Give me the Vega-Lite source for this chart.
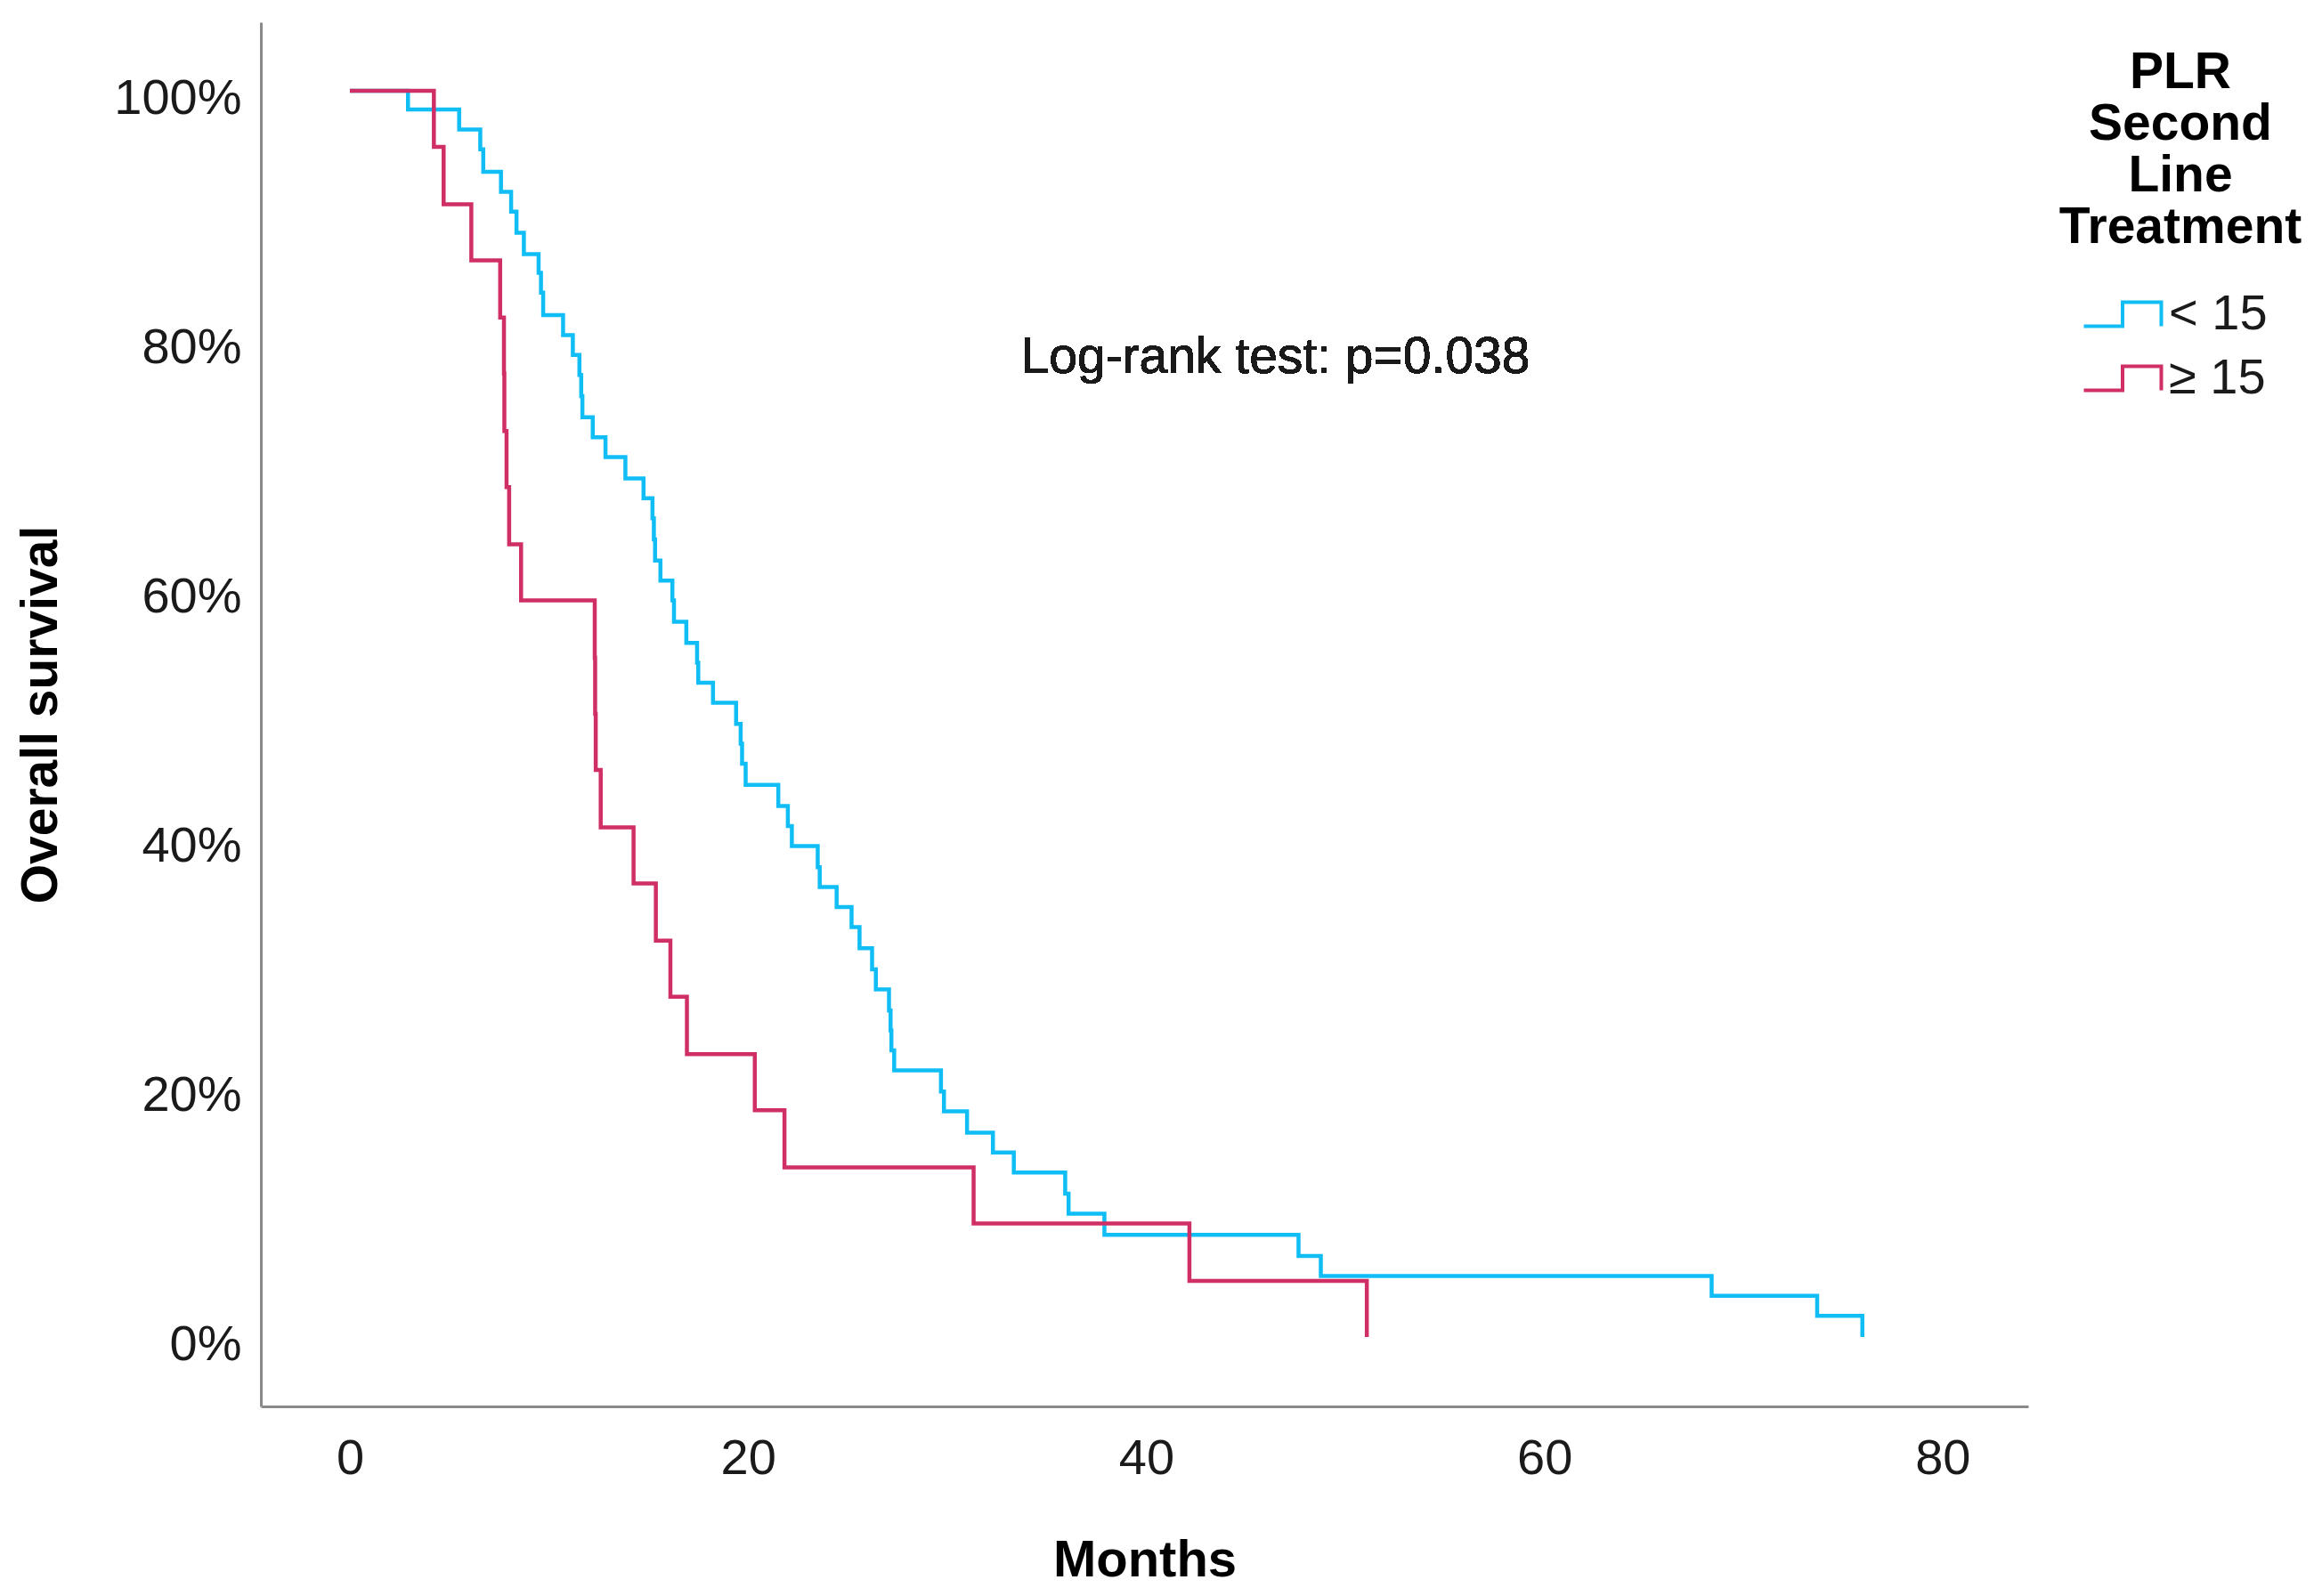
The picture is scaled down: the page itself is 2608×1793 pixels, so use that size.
{
  "$schema": "https://vega.github.io/schema/vega-lite/v6.json",
  "width": 1985,
  "height": 1555,
  "autosize": {"type": "none"},
  "padding": {"left": 293, "top": 25, "right": 330, "bottom": 213},
  "background": "white",
  "config": {"view": {"stroke": null}, "font": "Liberation Sans"},
  "data": {
    "values": [
      {"group": "< 15", "months": 0, "survival": 100},
      {"group": "< 15", "months": 2.92, "survival": 98.5},
      {"group": "< 15", "months": 5.49, "survival": 96.9},
      {"group": "< 15", "months": 6.55, "survival": 95.3},
      {"group": "< 15", "months": 6.7, "survival": 93.5},
      {"group": "< 15", "months": 7.59, "survival": 91.9},
      {"group": "< 15", "months": 8.1, "survival": 90.3},
      {"group": "< 15", "months": 8.37, "survival": 88.6},
      {"group": "< 15", "months": 8.74, "survival": 86.9},
      {"group": "< 15", "months": 9.48, "survival": 85.4},
      {"group": "< 15", "months": 9.6, "survival": 83.8},
      {"group": "< 15", "months": 9.71, "survival": 82.0},
      {"group": "< 15", "months": 10.71, "survival": 80.4},
      {"group": "< 15", "months": 11.2, "survival": 78.8},
      {"group": "< 15", "months": 11.53, "survival": 77.2},
      {"group": "< 15", "months": 11.62, "survival": 75.5},
      {"group": "< 15", "months": 11.68, "survival": 73.8},
      {"group": "< 15", "months": 12.2, "survival": 72.2},
      {"group": "< 15", "months": 12.84, "survival": 70.6},
      {"group": "< 15", "months": 13.84, "survival": 68.9},
      {"group": "< 15", "months": 14.75, "survival": 67.3},
      {"group": "< 15", "months": 15.2, "survival": 65.7},
      {"group": "< 15", "months": 15.27, "survival": 64.0},
      {"group": "< 15", "months": 15.33, "survival": 62.3},
      {"group": "< 15", "months": 15.6, "survival": 60.7},
      {"group": "< 15", "months": 16.2, "survival": 59.1},
      {"group": "< 15", "months": 16.28, "survival": 57.4},
      {"group": "< 15", "months": 16.9, "survival": 55.7},
      {"group": "< 15", "months": 17.44, "survival": 54.1},
      {"group": "< 15", "months": 17.5, "survival": 52.5},
      {"group": "< 15", "months": 18.24, "survival": 50.9},
      {"group": "< 15", "months": 19.4, "survival": 49.2},
      {"group": "< 15", "months": 19.63, "survival": 47.6},
      {"group": "< 15", "months": 19.7, "survival": 46.0},
      {"group": "< 15", "months": 19.88, "survival": 44.3},
      {"group": "< 15", "months": 21.52, "survival": 42.6},
      {"group": "< 15", "months": 22.0, "survival": 41.0},
      {"group": "< 15", "months": 22.2, "survival": 39.4},
      {"group": "< 15", "months": 23.5, "survival": 37.7},
      {"group": "< 15", "months": 23.6, "survival": 36.1},
      {"group": "< 15", "months": 24.45, "survival": 34.5},
      {"group": "< 15", "months": 25.2, "survival": 32.9},
      {"group": "< 15", "months": 25.6, "survival": 31.2},
      {"group": "< 15", "months": 26.23, "survival": 29.5},
      {"group": "< 15", "months": 26.42, "survival": 27.9},
      {"group": "< 15", "months": 27.08, "survival": 26.2},
      {"group": "< 15", "months": 27.16, "survival": 24.6},
      {"group": "< 15", "months": 27.2, "survival": 23.0},
      {"group": "< 15", "months": 27.34, "survival": 21.4},
      {"group": "< 15", "months": 29.69, "survival": 19.7},
      {"group": "< 15", "months": 29.84, "survival": 18.1},
      {"group": "< 15", "months": 31.0, "survival": 16.4},
      {"group": "< 15", "months": 32.3, "survival": 14.8},
      {"group": "< 15", "months": 33.35, "survival": 13.2},
      {"group": "< 15", "months": 35.93, "survival": 11.5},
      {"group": "< 15", "months": 36.1, "survival": 9.9},
      {"group": "< 15", "months": 37.9, "survival": 8.2},
      {"group": "< 15", "months": 47.65, "survival": 6.5},
      {"group": "< 15", "months": 48.77, "survival": 4.9},
      {"group": "< 15", "months": 68.4, "survival": 3.3},
      {"group": "< 15", "months": 73.7, "survival": 1.7},
      {"group": "< 15", "months": 75.97, "survival": 0},
      {"group": "≥ 15", "months": 0, "survival": 100},
      {"group": "≥ 15", "months": 4.22, "survival": 95.5},
      {"group": "≥ 15", "months": 4.71, "survival": 90.9},
      {"group": "≥ 15", "months": 6.1, "survival": 86.4},
      {"group": "≥ 15", "months": 7.55, "survival": 81.8},
      {"group": "≥ 15", "months": 7.74, "survival": 77.3},
      {"group": "≥ 15", "months": 7.76, "survival": 72.7},
      {"group": "≥ 15", "months": 7.87, "survival": 68.2},
      {"group": "≥ 15", "months": 8.0, "survival": 63.6},
      {"group": "≥ 15", "months": 8.6, "survival": 59.1},
      {"group": "≥ 15", "months": 12.3, "survival": 54.5},
      {"group": "≥ 15", "months": 12.32, "survival": 50.0},
      {"group": "≥ 15", "months": 12.35, "survival": 45.5},
      {"group": "≥ 15", "months": 12.6, "survival": 40.9},
      {"group": "≥ 15", "months": 14.25, "survival": 36.4},
      {"group": "≥ 15", "months": 15.37, "survival": 31.8},
      {"group": "≥ 15", "months": 16.1, "survival": 27.3},
      {"group": "≥ 15", "months": 16.93, "survival": 22.7},
      {"group": "≥ 15", "months": 20.34, "survival": 18.2},
      {"group": "≥ 15", "months": 21.83, "survival": 13.6},
      {"group": "≥ 15", "months": 31.33, "survival": 9.1},
      {"group": "≥ 15", "months": 42.17, "survival": 4.5},
      {"group": "≥ 15", "months": 51.08, "survival": 0}
    ]
  },
  "layer": [
    {
      "mark": {"type": "line", "interpolate": "step-after", "strokeWidth": 4.5},
      "encoding": {
        "x": {
          "field": "months",
          "type": "quantitative",
          "scale": {"domain": [-4.47, 84.3], "nice": false, "zero": false},
          "axis": {
            "title": "Months",
            "values": [0, 20, 40, 60, 80],
            "grid": false,
            "ticks": false,
            "tickSize": 0,
            "domainColor": "#8a8a8a",
            "domainWidth": 3,
            "labelFont": "Liberation Sans",
            "labelFontSize": 56,
            "labelColor": "#1a1a1a",
            "labelPadding": 31,
            "titleFont": "Liberation Sans",
            "titleFontSize": 58,
            "titleFontWeight": "bold",
            "titleColor": "black",
            "titlePadding": 58
          }
        },
        "y": {
          "field": "survival",
          "type": "quantitative",
          "scale": {"domain": [-5.57, 105.5], "nice": false, "zero": false},
          "axis": {
            "title": "Overall survival",
            "values": [0, 20, 40, 60, 80, 100],
            "labelExpr": "datum.value + '%'",
            "grid": false,
            "ticks": false,
            "tickSize": 0,
            "domainColor": "#8a8a8a",
            "domainWidth": 3,
            "labelFont": "Liberation Sans",
            "labelFontSize": 56,
            "labelColor": "#1a1a1a",
            "labelPadding": 22,
            "labelOffset": 8,
            "titleFont": "Liberation Sans",
            "titleFontSize": 57,
            "titleFontWeight": "bold",
            "titleColor": "black",
            "titlePadding": 52
          }
        },
        "color": {
          "field": "group",
          "type": "nominal",
          "scale": {"domain": ["< 15", "≥ 15"], "range": ["#10BEF5", "#D02F66"]},
          "legend": {
            "title": ["PLR", "Second", "Line", "Treatment"],
            "orient": "none",
            "legendX": 2020,
            "legendY": 29,
            "padding": 0,
            "titleFont": "Liberation Sans",
            "titleFontSize": 57,
            "titleFontWeight": "bold",
            "titleLineHeight": 58,
            "titleLimit": 600,
            "titleAnchor": "middle",
            "titleAlign": "center",
            "titleColor": "black",
            "titlePadding": 36,
            "labelFont": "Liberation Sans",
            "labelFontSize": 56,
            "labelColor": "#1a1a1a",
            "labelOffset": 20,
            "labelLimit": 400,
            "symbolType": "M -1.45 0.45 H 0 V -0.45 H 1.45 V 0.45",
            "symbolSize": 3600,
            "symbolStrokeWidth": 4,
            "symbolFillColor": "transparent",
            "rowPadding": 12
          }
        }
      }
    },
    {
      "mark": {
        "type": "text",
        "align": "left",
        "baseline": "middle",
        "font": "Liberation Sans",
        "fontSize": 57,
        "color": "#1a1a1a"
      },
      "encoding": {
        "x": {"datum": 33.7},
        "y": {"datum": 78.6},
        "text": {"value": "Log-rank test: p=0.038"}
      }
    }
  ]
}
